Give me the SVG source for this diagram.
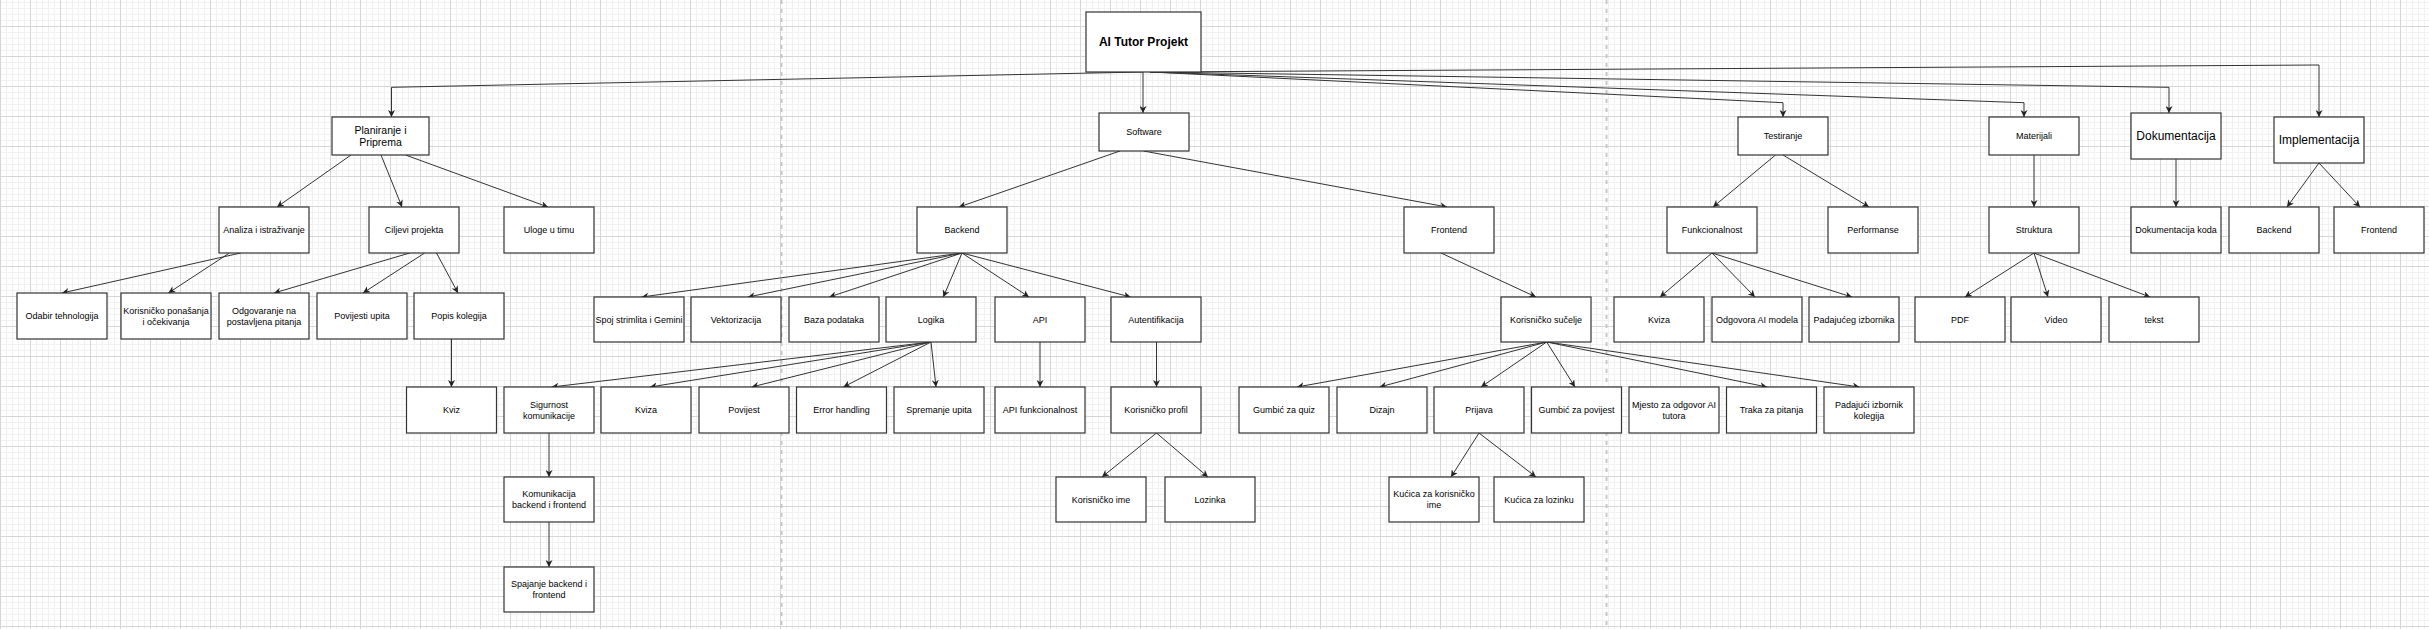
<svg xmlns="http://www.w3.org/2000/svg" width="2429" height="629" viewBox="0 0 2429 629">
<style>
.n rect{fill:#ffffff;stroke:#333333;stroke-width:1.2}
text{font-family:"Liberation Sans",Arial,sans-serif;font-size:9px;fill:#000000;text-anchor:middle}
.big{font-size:12px}
.mid{font-size:10.5px}
.bold{font-weight:bold;font-size:12px}
#edges path{fill:none;stroke:#333333;stroke-width:1;marker-end:url(#arr)}
.sep{stroke:#c8c8c8;stroke-width:2;stroke-dasharray:4 5}
</style>
<defs>
<pattern id="minor" x="0" y="26" width="6" height="6" patternUnits="userSpaceOnUse">
<rect x="0" y="0" width="6" height="1" fill="#f1f1f1"/>
<rect x="0" y="0" width="1" height="6" fill="#f1f1f1"/>
</pattern>
<pattern id="major" x="0" y="26" width="30" height="30" patternUnits="userSpaceOnUse">
<rect x="0" y="0" width="30" height="1" fill="#d6d6d6"/>
<rect x="0" y="0" width="1" height="30" fill="#d6d6d6"/>
</pattern>
<marker id="arr" viewBox="0 0 10 10" refX="10" refY="5" markerWidth="7" markerHeight="7" markerUnits="userSpaceOnUse" orient="auto">
<path d="M0,0 L10,5 L0,10 L3,5 z" fill="#222222"/>
</marker>
</defs>
<rect x="0" y="0" width="2429" height="629" fill="#ffffff"/>
<rect x="0" y="0" width="2429" height="629" fill="url(#minor)"/>
<rect x="0" y="0" width="2429" height="629" fill="url(#major)"/>
<line class="sep" x1="781.5" y1="0" x2="781.5" y2="629"/>
<line class="sep" x1="1606.5" y1="0" x2="1606.5" y2="629"/>

<g id="edges">
<path d="M1143,72 L391.5,87.3 L391.5,117"/>
<path d="M1143,72 L1143,113"/>
<path d="M1150,72 L2319,65 L2319,117"/>
<path d="M1150,72 L2169,87.3 L2169,113"/>
<path d="M1150,72 L2024,102.7 L2024,117"/>
<path d="M1150,72 L1783,102.7 L1783,117"/>
<path d="M351,155 L277,207"/>
<path d="M381,155 L402,207"/>
<path d="M405.5,155 L548,207"/>
<path d="M1120,151 L959,207"/>
<path d="M1143.5,151 L1447,207"/>
<path d="M1775.5,155 L1713,207"/>
<path d="M1783,155 L1869,207"/>
<path d="M2034,155 L2034,207"/>
<path d="M2176,159 L2176,207"/>
<path d="M2319,163 L2287,207"/>
<path d="M2319,163 L2360,207"/>
<path d="M240.7,253 L62,293"/>
<path d="M229.4,253 L168.4,293"/>
<path d="M409.7,253 L274,293"/>
<path d="M424.6,253 L363,293"/>
<path d="M436.5,253 L458,293"/>
<path d="M451.5,339 L451.5,387"/>
<path d="M962,253 L641.7,297"/>
<path d="M962,253 L748,297"/>
<path d="M962,253 L829.3,297"/>
<path d="M962,253 L943.3,297"/>
<path d="M962,253 L1029,297"/>
<path d="M962,253 L1130.6,297"/>
<path d="M1441,253 L1536,297"/>
<path d="M1712,253 L1660,297"/>
<path d="M1712,253 L1755,297"/>
<path d="M1712,253 L1852,297"/>
<path d="M2034,253 L1965,297"/>
<path d="M2034,253 L2048,297"/>
<path d="M2034,253 L2150,297"/>
<path d="M931,342 L551.7,387"/>
<path d="M931,342 L650,387"/>
<path d="M931,342 L751.7,387"/>
<path d="M931,342 L843.4,387"/>
<path d="M931,342 L936,387"/>
<path d="M1040,342 L1040,387"/>
<path d="M1156.5,342 L1156.5,387"/>
<path d="M1546.7,342 L1297,387"/>
<path d="M1546.7,342 L1379.6,387"/>
<path d="M1546.7,342 L1481,387"/>
<path d="M1546.7,342 L1575,387"/>
<path d="M1546.7,342 L1767,387"/>
<path d="M1546.7,342 L1859.5,387"/>
<path d="M549,433 L549,477"/>
<path d="M549,522 L549,567"/>
<path d="M1156.5,433 L1102,477"/>
<path d="M1156.5,433 L1208,477"/>
<path d="M1479,433 L1451,477"/>
<path d="M1479,433 L1536,477"/>
</g>

<g id="n-ai" class="n"><rect x="1086" y="12" width="115" height="60"/><text class="bold" x="1143.5" y="46">AI Tutor Projekt</text></g>

<g id="n-planiranje" class="n"><rect x="332" y="117" width="97" height="38"/><text class="mid" x="380.5" y="133.7">Planiranje i</text><text class="mid" x="380.5" y="146">Priprema</text></g>
<g id="n-software" class="n"><rect x="1099" y="113" width="90" height="38"/><text x="1144" y="135.2">Software</text></g>
<g id="n-testiranje" class="n"><rect x="1738" y="117" width="90" height="38"/><text x="1783" y="139.2">Testiranje</text></g>
<g id="n-materijali" class="n"><rect x="1989" y="117" width="90" height="38"/><text x="2034" y="139.2">Materijali</text></g>
<g id="n-dokumentacija" class="n"><rect x="2131" y="113" width="90" height="46"/><text class="big" x="2176" y="140.3">Dokumentacija</text></g>
<g id="n-implementacija" class="n"><rect x="2274" y="117" width="90" height="46"/><text class="big" x="2319" y="144.3">Implementacija</text></g>

<g id="n-analiza" class="n"><rect x="219" y="207" width="90" height="46"/><text x="264" y="233.2">Analiza i istraživanje</text></g>
<g id="n-ciljevi" class="n"><rect x="369" y="207" width="90" height="46"/><text x="414" y="233.2">Ciljevi projekta</text></g>
<g id="n-uloge" class="n"><rect x="504" y="207" width="90" height="46"/><text x="549" y="233.2">Uloge u timu</text></g>
<g id="n-backend" class="n"><rect x="917" y="207" width="90" height="46"/><text x="962" y="233.2">Backend</text></g>
<g id="n-frontend" class="n"><rect x="1404" y="207" width="90" height="46"/><text x="1449" y="233.2">Frontend</text></g>
<g id="n-funkcionalnost" class="n"><rect x="1667" y="207" width="90" height="46"/><text x="1712" y="233.2">Funkcionalnost</text></g>
<g id="n-performanse" class="n"><rect x="1828" y="207" width="90" height="46"/><text x="1873" y="233.2">Performanse</text></g>
<g id="n-struktura" class="n"><rect x="1989" y="207" width="90" height="46"/><text x="2034" y="233.2">Struktura</text></g>
<g id="n-dokkoda" class="n"><rect x="2131" y="207" width="90" height="46"/><text x="2176" y="233.2">Dokumentacija koda</text></g>
<g id="n-impl-backend" class="n"><rect x="2229" y="207" width="90" height="46"/><text x="2274" y="233.2">Backend</text></g>
<g id="n-impl-frontend" class="n"><rect x="2334" y="207" width="90" height="46"/><text x="2379" y="233.2">Frontend</text></g>

<g id="n-odabir" class="n"><rect x="17" y="293" width="90" height="46"/><text x="62" y="319.2">Odabir tehnologija</text></g>
<g id="n-korisnicko-ponasanje" class="n"><rect x="121" y="293" width="90" height="46"/><text x="166" y="313.8">Korisničko ponašanja</text><text x="166" y="324.5">i očekivanja</text></g>
<g id="n-odgovaranje" class="n"><rect x="219" y="293" width="90" height="46"/><text x="264" y="313.8">Odgovaranje na</text><text x="264" y="324.5">postavljena pitanja</text></g>
<g id="n-povijesti" class="n"><rect x="317" y="293" width="90" height="46"/><text x="362" y="319.2">Povijesti upita</text></g>
<g id="n-popis" class="n"><rect x="414" y="293" width="90" height="46"/><text x="459" y="319.2">Popis kolegija</text></g>

<g id="n-spoj" class="n"><rect x="594" y="297" width="90" height="45"/><text x="639" y="322.7">Spoj strimlita i Gemini</text></g>
<g id="n-vektorizacija" class="n"><rect x="691" y="297" width="90" height="45"/><text x="736" y="322.7">Vektorizacija</text></g>
<g id="n-baza" class="n"><rect x="789" y="297" width="90" height="45"/><text x="834" y="322.7">Baza podataka</text></g>
<g id="n-logika" class="n"><rect x="886" y="297" width="90" height="45"/><text x="931" y="322.7">Logika</text></g>
<g id="n-api" class="n"><rect x="995" y="297" width="90" height="45"/><text x="1040" y="322.7">API</text></g>
<g id="n-autentifikacija" class="n"><rect x="1111" y="297" width="90" height="45"/><text x="1156" y="322.7">Autentifikacija</text></g>
<g id="n-sucelje" class="n"><rect x="1501" y="297" width="90" height="45"/><text x="1546" y="322.7">Korisničko sučelje</text></g>
<g id="n-kviza-test" class="n"><rect x="1614" y="297" width="90" height="45"/><text x="1659" y="322.7">Kviza</text></g>
<g id="n-odgovora" class="n"><rect x="1712" y="297" width="90" height="45"/><text x="1757" y="322.7">Odgovora AI modela</text></g>
<g id="n-padajuceg" class="n"><rect x="1809" y="297" width="90" height="45"/><text x="1854" y="322.7">Padajućeg izbornika</text></g>
<g id="n-pdf" class="n"><rect x="1915" y="297" width="90" height="45"/><text x="1960" y="322.7">PDF</text></g>
<g id="n-video" class="n"><rect x="2011" y="297" width="90" height="45"/><text x="2056" y="322.7">Video</text></g>
<g id="n-tekst" class="n"><rect x="2109" y="297" width="90" height="45"/><text x="2154" y="322.7">tekst</text></g>

<g id="n-kviz" class="n"><rect x="406.5" y="387" width="90" height="46"/><text x="451.5" y="413.2">Kviz</text></g>
<g id="n-sigurnost" class="n"><rect x="504" y="387" width="90" height="46"/><text x="549" y="407.8">Sigurnost</text><text x="549" y="418.5">komunikacije</text></g>
<g id="n-kviza" class="n"><rect x="601" y="387" width="90" height="46"/><text x="646" y="413.2">Kviza</text></g>
<g id="n-povijest" class="n"><rect x="699" y="387" width="90" height="46"/><text x="744" y="413.2">Povijest</text></g>
<g id="n-error" class="n"><rect x="796.5" y="387" width="90" height="46"/><text x="841.5" y="413.2">Error handling</text></g>
<g id="n-spremanje" class="n"><rect x="894" y="387" width="90" height="46"/><text x="939" y="413.2">Spremanje upita</text></g>
<g id="n-apifunk" class="n"><rect x="995" y="387" width="90" height="46"/><text x="1040" y="413.2">API funkcionalnost</text></g>
<g id="n-profil" class="n"><rect x="1111" y="387" width="90" height="46"/><text x="1156" y="413.2">Korisničko profil</text></g>
<g id="n-gumbic-quiz" class="n"><rect x="1239" y="387" width="90" height="46"/><text x="1284" y="413.2">Gumbić za quiz</text></g>
<g id="n-dizajn" class="n"><rect x="1337" y="387" width="90" height="46"/><text x="1382" y="413.2">Dizajn</text></g>
<g id="n-prijava" class="n"><rect x="1434" y="387" width="90" height="46"/><text x="1479" y="413.2">Prijava</text></g>
<g id="n-gumbic-povijest" class="n"><rect x="1531.5" y="387" width="90" height="46"/><text x="1576.5" y="413.2">Gumbić za povijest</text></g>
<g id="n-mjesto" class="n"><rect x="1629" y="387" width="90" height="46"/><text x="1674" y="407.8">Mjesto za odgovor AI</text><text x="1674" y="418.5">tutora</text></g>
<g id="n-traka" class="n"><rect x="1726.5" y="387" width="90" height="46"/><text x="1771.5" y="413.2">Traka za pitanja</text></g>
<g id="n-padajuci" class="n"><rect x="1824" y="387" width="90" height="46"/><text x="1869" y="407.8">Padajući izbornik</text><text x="1869" y="418.5">kolegija</text></g>

<g id="n-komunikacija" class="n"><rect x="504" y="477" width="90" height="45"/><text x="549" y="497.3">Komunikacija</text><text x="549" y="508">backend i frontend</text></g>
<g id="n-korisnicko-ime" class="n"><rect x="1056" y="477" width="90" height="45"/><text x="1101" y="502.7">Korisničko ime</text></g>
<g id="n-lozinka" class="n"><rect x="1165" y="477" width="90" height="45"/><text x="1210" y="502.7">Lozinka</text></g>
<g id="n-kucica-kor" class="n"><rect x="1389" y="477" width="90" height="45"/><text x="1434" y="497.3">Kućica za korisničko</text><text x="1434" y="508">ime</text></g>
<g id="n-kucica-loz" class="n"><rect x="1494" y="477" width="90" height="45"/><text x="1539" y="502.7">Kućica za lozinku</text></g>

<g id="n-spajanje" class="n"><rect x="504" y="567" width="90" height="45"/><text x="549" y="587.3">Spajanje backend i</text><text x="549" y="598">frontend</text></g>
</svg>
